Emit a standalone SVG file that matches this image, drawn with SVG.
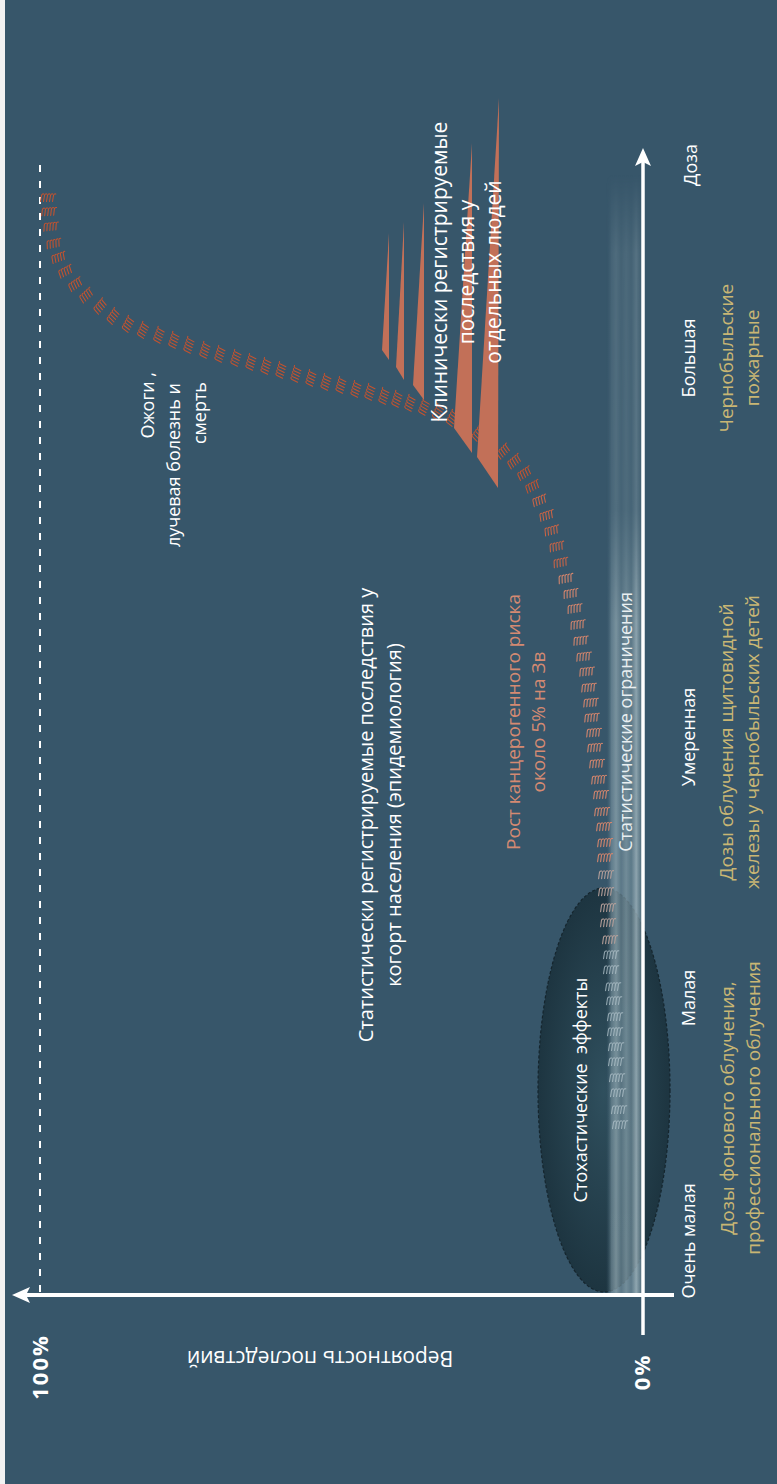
<svg xmlns="http://www.w3.org/2000/svg" xmlns:xlink="http://www.w3.org/1999/xlink" width="777" height="1484" viewBox="0 0 777 1484">
<defs>
<style>
.t{font-family:"Open Sans","Noto Sans","DejaVu Sans",sans-serif;fill:#ffffff;font-size:18px}
.y{fill:#c9b674;font-size:19px}
.s{fill:#d48a72;font-size:19px}
.b{font-weight:bold;font-size:22px;letter-spacing:2px}
.m{fill:none;stroke-width:1.05;stroke-linecap:round}
.o1{stroke:#c4532f}
.o2{stroke:#cc6445}
.o3{stroke:#d9876d}
.o4{stroke:#b9a29c}
.o5{stroke:#b0c2ca;opacity:.8}
.spk{fill:#c27058}
.ax{stroke:#ffffff;fill:none}
</style>
<g id="m">
<path d="M-6.5,3.5 L-5.5,-2.5 Q-5,-4.5 -3.2,-4"/>
<path d="M-3.5,3.5 L-2.5,-2.5 Q-2,-4.5 -0.2,-4"/>
<path d="M-0.5,3.5 L0.5,-2.5 Q1,-4.5 2.8,-4"/>
<path d="M2.5,3.5 L3.5,-2.5 Q4,-4.5 5.8,-4"/>
<path d="M5.5,3.5 L6.5,-2.5 Q7,-4.5 8.8,-4"/>
</g>
<radialGradient id="eg" cx="0.5" cy="0.5" r="0.5">
<stop offset="0" stop-color="#2f4f5d"/>
<stop offset="1" stop-color="#1b323d"/>
</radialGradient>
<linearGradient id="bandg" x1="0" y1="0" x2="1" y2="0">
<stop offset="0" stop-color="#37566a" stop-opacity="0"/>
<stop offset="0.15" stop-color="#7f99a5" stop-opacity="0.6"/>
<stop offset="0.28" stop-color="#93aab3" stop-opacity="0.75"/>
<stop offset="0.42" stop-color="#6d8895" stop-opacity="0.7"/>
<stop offset="0.56" stop-color="#87a0aa" stop-opacity="0.75"/>
<stop offset="0.7" stop-color="#6f8a97" stop-opacity="0.7"/>
<stop offset="0.84" stop-color="#a0b5bd" stop-opacity="0.85"/>
<stop offset="1" stop-color="#55717f" stop-opacity="0.75"/>
</linearGradient>
<linearGradient id="fade" x1="0" y1="0" x2="0" y2="1">
<stop offset="0" stop-color="#fff" stop-opacity="0"/>
<stop offset="0.07" stop-color="#fff" stop-opacity="0.35"/>
<stop offset="0.3" stop-color="#fff" stop-opacity="0.4"/>
<stop offset="0.4" stop-color="#fff" stop-opacity="0.95"/>
<stop offset="1" stop-color="#fff" stop-opacity="1"/>
</linearGradient>
<mask id="bandmask" maskUnits="userSpaceOnUse" x="600" y="170" width="50" height="1130">
<rect x="600" y="175" width="50" height="1118" fill="url(#fade)"/>
</mask>
</defs>

<rect x="0" y="0" width="777" height="1484" fill="#37566a"/>
<rect x="0" y="0" width="5" height="1484" fill="#f2f2f2"/>

<g id="dashed-100">
<line x1="40" y1="165" x2="40" y2="1293" stroke="#ffffff" stroke-width="2" stroke-dasharray="7 9"/>
</g>

<g id="stochastic-ellipse">
<ellipse cx="604" cy="1090" rx="66" ry="202" fill="url(#eg)" fill-opacity="0.92" stroke="#15252d" stroke-width="1.2" stroke-dasharray="3 2"/>
</g>

<g id="stat-band">
<rect x="606" y="175" width="36" height="1118" fill="url(#bandg)" mask="url(#bandmask)"/>
</g>

<g id="curve" class="m">
<use href="#m" class="o1" transform="translate(47,198) rotate(0)"/>
<use href="#m" class="o1" transform="translate(48,212) rotate(-3)"/>
<use href="#m" class="o1" transform="translate(50,227) rotate(-6)"/>
<use href="#m" class="o1" transform="translate(53,244) rotate(-12)"/>
<use href="#m" class="o1" transform="translate(58,258) rotate(-20)"/>
<use href="#m" class="o1" transform="translate(65,272) rotate(-28)"/>
<use href="#m" class="o1" transform="translate(75,285) rotate(-35)"/>
<use href="#m" class="o1" transform="translate(86,296) rotate(-42)"/>
<use href="#m" class="o1" transform="translate(100,307) rotate(-50)"/>
<use href="#m" class="o1" transform="translate(113,317) rotate(-56)"/>
<use href="#m" class="o1" transform="translate(128,325) rotate(-62)"/>
<use href="#m" class="o1" transform="translate(143,331) rotate(-66)"/>
<use href="#m" class="o1" transform="translate(159,336) rotate(-70)"/>
<use href="#m" class="o1" transform="translate(174,341) rotate(-72)"/>
<use href="#m" class="o1" transform="translate(189,346) rotate(-72)"/>
<use href="#m" class="o1" transform="translate(205,351) rotate(-72)"/>
<use href="#m" class="o1" transform="translate(220,355) rotate(-73)"/>
<use href="#m" class="o1" transform="translate(236,359) rotate(-73)"/>
<use href="#m" class="o1" transform="translate(251,363) rotate(-74)"/>
<use href="#m" class="o1" transform="translate(266,367) rotate(-74)"/>
<use href="#m" class="o1" transform="translate(281,371) rotate(-74)"/>
<use href="#m" class="o1" transform="translate(296,375) rotate(-74)"/>
<use href="#m" class="o1" transform="translate(311,379) rotate(-74)"/>
<use href="#m" class="o1" transform="translate(326,383) rotate(-74)"/>
<use href="#m" class="o1" transform="translate(341,386) rotate(-74)"/>
<use href="#m" class="o1" transform="translate(356,390) rotate(-74)"/>
<use href="#m" class="o1" transform="translate(370,393) rotate(-73)"/>
<use href="#m" class="o1" transform="translate(384,397) rotate(-73)"/>
<use href="#m" class="o1" transform="translate(397,400) rotate(-72)"/>
<use href="#m" class="o1" transform="translate(410,404) rotate(-71)"/>
<use href="#m" class="o1" transform="translate(424,408) rotate(-69)"/>
<use href="#m" class="o1" transform="translate(438,413) rotate(-66)"/>
<use href="#m" class="o1" transform="translate(452,419) rotate(-62)"/>
<use href="#m" class="o1" transform="translate(465,426) rotate(-58)"/>
<use href="#m" class="o1" transform="translate(478,434) rotate(-54)"/>
<use href="#m" class="o1" transform="translate(491,443) rotate(-50)"/>
<use href="#m" class="o1" transform="translate(503,452) rotate(-45)"/>
<use href="#m" class="o1" transform="translate(514,462) rotate(-40)"/>
<use href="#m" class="o1" transform="translate(524,474) rotate(-34)"/>
<use href="#m" class="o1" transform="translate(532,487) rotate(-28)"/>
<use href="#m" class="o2" transform="translate(539,501) rotate(-22)"/>
<use href="#m" class="o2" transform="translate(546,516) rotate(-18)"/>
<use href="#m" class="o2" transform="translate(551,531) rotate(-15)"/>
<use href="#m" class="o2" transform="translate(556,547) rotate(-13)"/>
<use href="#m" class="o2" transform="translate(560,563) rotate(-12)"/>
<use href="#m" class="o3" transform="translate(565,579) rotate(-11)"/>
<use href="#m" class="o3" transform="translate(570,594) rotate(-10)"/>
<use href="#m" class="o3" transform="translate(574,609) rotate(-9)"/>
<use href="#m" class="o3" transform="translate(577,625) rotate(-8)"/>
<use href="#m" class="o3" transform="translate(580,641) rotate(-7)"/>
<use href="#m" class="o3" transform="translate(583,657) rotate(-6)"/>
<use href="#m" class="o3" transform="translate(586,672) rotate(-6)"/>
<use href="#m" class="o3" transform="translate(588,688) rotate(-5)"/>
<use href="#m" class="o3" transform="translate(590,703) rotate(-5)"/>
<use href="#m" class="o3" transform="translate(591,718) rotate(-5)"/>
<use href="#m" class="o3" transform="translate(593,733) rotate(-4)"/>
<use href="#m" class="o3" transform="translate(594,748) rotate(-4)"/>
<use href="#m" class="o3" transform="translate(596,764) rotate(-4)"/>
<use href="#m" class="o3" transform="translate(598,780) rotate(-4)"/>
<use href="#m" class="o3" transform="translate(600,795) rotate(-3)"/>
<use href="#m" class="o3" transform="translate(601,812) rotate(-3)"/>
<use href="#m" class="o3" transform="translate(603,827) rotate(-3)"/>
<use href="#m" class="o3" transform="translate(604,843) rotate(-3)"/>
<use href="#m" class="o3" transform="translate(604,858) rotate(-2)"/>
<use href="#m" class="o4" transform="translate(605,875) rotate(-2)"/>
<use href="#m" class="o4" transform="translate(605,892) rotate(-2)"/>
<use href="#m" class="o4" transform="translate(607,908) rotate(-2)"/>
<use href="#m" class="o4" transform="translate(607,923) rotate(-2)"/>
<use href="#m" class="o4" transform="translate(609,940) rotate(-2)"/>
<use href="#m" class="o5" transform="translate(610,955) rotate(-1)"/>
<use href="#m" class="o5" transform="translate(610,970) rotate(-1)"/>
<use href="#m" class="o5" transform="translate(612,987) rotate(-1)"/>
<use href="#m" class="o5" transform="translate(613,1001) rotate(-1)"/>
<use href="#m" class="o5" transform="translate(614,1017) rotate(-1)"/>
<use href="#m" class="o5" transform="translate(614,1032) rotate(-1)"/>
<use href="#m" class="o5" transform="translate(615,1047) rotate(-1)"/>
<use href="#m" class="o5" transform="translate(615,1062) rotate(-1)"/>
<use href="#m" class="o5" transform="translate(616,1078) rotate(-1)"/>
<use href="#m" class="o5" transform="translate(617,1093) rotate(-1)"/>
<use href="#m" class="o5" transform="translate(618,1110) rotate(-1)"/>
<use href="#m" class="o5" transform="translate(619,1125) rotate(-1)"/>
</g>

<g id="clinical-spikes">
<polygon class="spk" points="389,233 389,360 382,350"/>
<polygon class="spk" points="404,222 404,380 396,367"/>
<polygon class="spk" points="424,203 424,400 413,385"/>
<polygon class="spk" points="472,143 472,453 454,428"/>
<polygon class="spk" points="499,98 498,488 477,457"/>
</g>

<g id="axes">
<line class="ax" x1="26" y1="1295" x2="674" y2="1295" stroke-width="4"/>
<polygon points="12,1295 30,1287 26,1295 30,1303" fill="#ffffff"/>
<line class="ax" x1="643" y1="1335" x2="643" y2="162" stroke-width="3.5"/>
<polygon points="643,148 651,166 643,162 635,166" fill="#ffffff"/>
</g>

<g id="axis-labels">
<text class="t b" transform="translate(48,1367) rotate(-90)" text-anchor="middle">100%</text>
<text class="t b" transform="translate(650,1372) rotate(-90)" text-anchor="middle">0%</text>
<text class="t" style="font-size:21px" transform="translate(320,1351) rotate(180)" text-anchor="middle">Вероятность последствий</text>
<text class="t" transform="translate(697,165) rotate(-90)" text-anchor="middle">Доза</text>
<text class="t" transform="translate(695,358) rotate(-90)" text-anchor="middle">Большая</text>
<text class="t" transform="translate(695,737) rotate(-90)" text-anchor="middle">Умеренная</text>
<text class="t" transform="translate(695,998) rotate(-90)" text-anchor="middle">Малая</text>
<text class="t" transform="translate(695,1241) rotate(-90)" text-anchor="middle">Очень малая</text>
</g>

<g id="dose-examples">
<text class="t y" transform="translate(733,358) rotate(-90)" text-anchor="middle">Чернобыльские<tspan x="0" dy="26">пожарные</tspan></text>
<text class="t y" transform="translate(733,742) rotate(-90)" text-anchor="middle">Дозы облучения щитовидной<tspan x="0" dy="26">железы у чернобыльских детей</tspan></text>
<text class="t y" transform="translate(734,1108) rotate(-90)" text-anchor="middle">Дозы фонового облучения,<tspan x="0" dy="26">профессионального облучения</tspan></text>
</g>

<g id="stat-limit-label">
<text class="t" style="fill:#e9eff1" transform="translate(632,722) rotate(-90)" text-anchor="middle">Статистические ограничения</text>
</g>

<g id="stochastic-label">
<text class="t" transform="translate(587,1090) rotate(-90)" text-anchor="middle" xml:space="preserve">Стохастические  эффекты</text>
</g>

<g id="cancer-risk-label">
<text class="t s" transform="translate(520,722) rotate(-90)" text-anchor="middle">Рост канцерогенного риска<tspan x="0" dy="25">около 5% на Зв</tspan></text>
</g>

<g id="epidemiology-label">
<text class="t" style="font-size:20px" transform="translate(373,815) rotate(-90)" text-anchor="middle">Статистически регистрируемые последствия у<tspan x="0" dy="28">когорт населения (эпидемиология)</tspan></text>
</g>

<g id="clinical-label">
<text class="t" style="font-size:21px" transform="translate(447,272) rotate(-90)" text-anchor="middle">Клинически регистрируемые<tspan x="0" dy="27">последствия у</tspan><tspan x="0" dy="27">отдельных людей</tspan></text>
</g>

<g id="burns-label">
<text class="t" transform="translate(154,372) rotate(-90)" text-anchor="end">Ожоги ,</text>
<text class="t" transform="translate(180,383) rotate(-90)" text-anchor="end">лучевая болезнь и</text>
<text class="t" transform="translate(206,382) rotate(-90)" text-anchor="end">смерть</text>
</g>
</svg>
